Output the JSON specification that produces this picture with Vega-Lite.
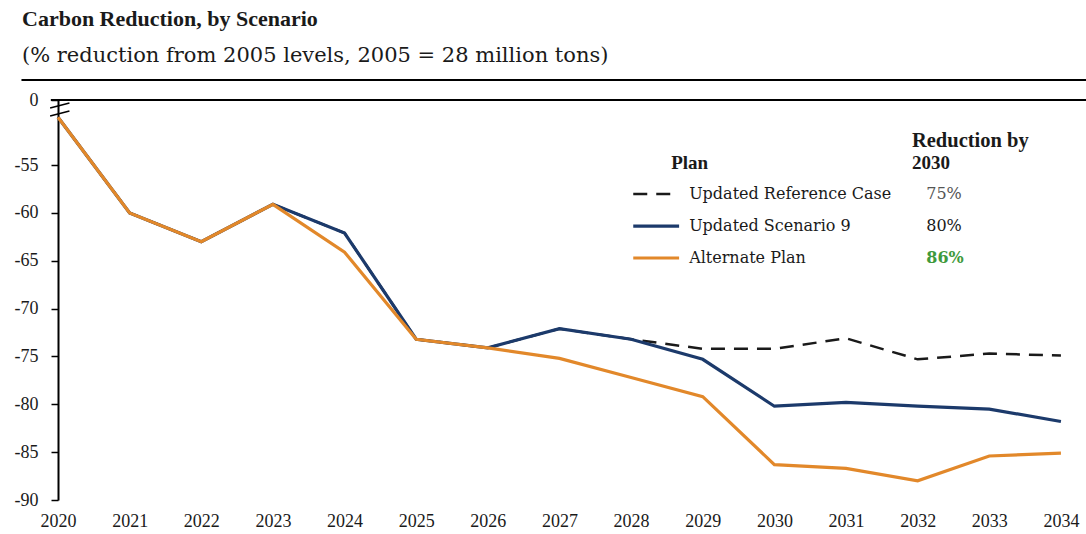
{
  "$schema": "https://vega.github.io/schema/vega-lite/v6.json",
  "width": 1028,
  "height": 400,
  "autosize": "none",
  "padding": {"left": 58, "top": 100, "right": 0, "bottom": 34},
  "background": "white",
  "title": {
    "text": "Carbon Reduction, by Scenario",
    "subtitle": "(% reduction from 2005 levels, 2005 = 28 million tons)",
    "anchor": "start",
    "frame": "group",
    "dx": -36,
    "offset": 12,
    "font": "Liberation Serif",
    "fontSize": 22,
    "fontWeight": "bold",
    "color": "#1a1a1a",
    "subtitleFont": "DejaVu Serif",
    "subtitleFontSize": 21,
    "subtitleColor": "#1a1a1a",
    "subtitlePadding": 14
  },
  "datasets": {
    "series": [
      {"year": 2020, "plan": "Updated Reference Case", "value": -50},
      {"year": 2021, "plan": "Updated Reference Case", "value": -60},
      {"year": 2022, "plan": "Updated Reference Case", "value": -63},
      {"year": 2023, "plan": "Updated Reference Case", "value": -59.1},
      {"year": 2024, "plan": "Updated Reference Case", "value": -62.1},
      {"year": 2025, "plan": "Updated Reference Case", "value": -73.2},
      {"year": 2026, "plan": "Updated Reference Case", "value": -74.1},
      {"year": 2027, "plan": "Updated Reference Case", "value": -72.1},
      {"year": 2028, "plan": "Updated Reference Case", "value": -73.2},
      {"year": 2029, "plan": "Updated Reference Case", "value": -74.2},
      {"year": 2030, "plan": "Updated Reference Case", "value": -74.2},
      {"year": 2031, "plan": "Updated Reference Case", "value": -73.1},
      {"year": 2032, "plan": "Updated Reference Case", "value": -75.3},
      {"year": 2033, "plan": "Updated Reference Case", "value": -74.7},
      {"year": 2034, "plan": "Updated Reference Case", "value": -74.9},
      {"year": 2020, "plan": "Updated Scenario 9", "value": -50},
      {"year": 2021, "plan": "Updated Scenario 9", "value": -60},
      {"year": 2022, "plan": "Updated Scenario 9", "value": -63},
      {"year": 2023, "plan": "Updated Scenario 9", "value": -59.1},
      {"year": 2024, "plan": "Updated Scenario 9", "value": -62.1},
      {"year": 2025, "plan": "Updated Scenario 9", "value": -73.2},
      {"year": 2026, "plan": "Updated Scenario 9", "value": -74.1},
      {"year": 2027, "plan": "Updated Scenario 9", "value": -72.1},
      {"year": 2028, "plan": "Updated Scenario 9", "value": -73.2},
      {"year": 2029, "plan": "Updated Scenario 9", "value": -75.3},
      {"year": 2030, "plan": "Updated Scenario 9", "value": -80.2},
      {"year": 2031, "plan": "Updated Scenario 9", "value": -79.8},
      {"year": 2032, "plan": "Updated Scenario 9", "value": -80.2},
      {"year": 2033, "plan": "Updated Scenario 9", "value": -80.5},
      {"year": 2034, "plan": "Updated Scenario 9", "value": -81.8},
      {"year": 2020, "plan": "Alternate Plan", "value": -50},
      {"year": 2021, "plan": "Alternate Plan", "value": -60},
      {"year": 2022, "plan": "Alternate Plan", "value": -63},
      {"year": 2023, "plan": "Alternate Plan", "value": -59.1},
      {"year": 2024, "plan": "Alternate Plan", "value": -64.1},
      {"year": 2025, "plan": "Alternate Plan", "value": -73.2},
      {"year": 2026, "plan": "Alternate Plan", "value": -74.1},
      {"year": 2027, "plan": "Alternate Plan", "value": -75.2},
      {"year": 2028, "plan": "Alternate Plan", "value": -77.2},
      {"year": 2029, "plan": "Alternate Plan", "value": -79.2},
      {"year": 2030, "plan": "Alternate Plan", "value": -86.3},
      {"year": 2031, "plan": "Alternate Plan", "value": -86.7},
      {"year": 2032, "plan": "Alternate Plan", "value": -88},
      {"year": 2033, "plan": "Alternate Plan", "value": -85.4},
      {"year": 2034, "plan": "Alternate Plan", "value": -85.1}
    ],
    "one": [{"k": 1}]
  },
  "layer": [
    {
      "data": {"name": "series"},
      "transform": [{"filter": "datum.plan === 'Updated Reference Case'"}],
      "mark": {"type": "line", "color": "#1a1a1a", "strokeWidth": 2.5, "strokeDash": [14, 9]},
      "encoding": {
        "x": {
          "field": "year",
          "type": "quantitative",
          "scale": {"domain": [2020, 2034.35], "nice": false, "zero": false},
          "axis": {
            "title": null,
            "values": [2020, 2021, 2022, 2023, 2024, 2025, 2026, 2027, 2028, 2029, 2030, 2031, 2032, 2033, 2034],
            "format": "d",
            "domain": false,
            "ticks": false,
            "grid": false,
            "labelFont": "Liberation Serif",
            "labelFontSize": 18,
            "labelColor": "#1a1a1a",
            "labelPadding": 12,
            "labelFlush": false
          }
        },
        "y": {
          "field": "value",
          "type": "quantitative",
          "scale": {"domain": [-90, -48.2], "nice": false, "zero": false},
          "axis": {
            "title": null,
            "values": [-90, -85, -80, -75, -70, -65, -60, -55, -48.2],
            "labelExpr": "datum.value > -50 ? '0' : '' + datum.value",
            "grid": false,
            "domainColor": "#000",
            "domainWidth": 2,
            "tickColor": "#000",
            "tickWidth": 1.5,
            "tickSize": 7,
            "labelFont": "Liberation Serif",
            "labelFontSize": 18,
            "labelColor": "#1a1a1a",
            "labelPadding": 13
          }
        }
      }
    },
    {
      "data": {"name": "series"},
      "transform": [{"filter": "datum.plan === 'Updated Scenario 9'"}],
      "mark": {"type": "line", "color": "#1c3a6b", "strokeWidth": 3.2},
      "encoding": {
        "x": {"field": "year", "type": "quantitative"},
        "y": {"field": "value", "type": "quantitative"}
      }
    },
    {
      "data": {"name": "series"},
      "transform": [{"filter": "datum.plan === 'Alternate Plan'"}],
      "mark": {"type": "line", "color": "#e2882a", "strokeWidth": 3.2},
      "encoding": {
        "x": {"field": "year", "type": "quantitative"},
        "y": {"field": "value", "type": "quantitative"}
      }
    },
    {
      "data": {"name": "one"},
      "mark": {"type": "rule", "color": "#000", "strokeWidth": 2},
      "encoding": {
        "x": {"datum": 2019.9, "type": "quantitative"},
        "x2": {"datum": 2034.35},
        "y": {"datum": -48.2, "type": "quantitative"}
      }
    },
    {
      "data": {"name": "one"},
      "mark": {"type": "rule", "color": "#000", "strokeWidth": 2},
      "encoding": {
        "x": {"datum": 2019.49, "type": "quantitative"},
        "x2": {"datum": 2034.35},
        "y": {"datum": -46.11, "type": "quantitative"}
      }
    },
    {
      "data": {"name": "one"},
      "mark": {"type": "rule", "color": "#000", "strokeWidth": 1.5},
      "encoding": {
        "x": {"datum": 2019.89, "type": "quantitative"},
        "x2": {"datum": 2020.16},
        "y": {"datum": -49.04, "type": "quantitative"},
        "y2": {"datum": -48.51}
      }
    },
    {
      "data": {"name": "one"},
      "mark": {"type": "rule", "color": "#000", "strokeWidth": 1.5},
      "encoding": {
        "x": {"datum": 2019.89, "type": "quantitative"},
        "x2": {"datum": 2020.16},
        "y": {"datum": -49.87, "type": "quantitative"},
        "y2": {"datum": -49.35}
      }
    },
    {
      "data": {"name": "one"},
      "mark": {"type": "rule", "color": "#1a1a1a", "strokeWidth": 2.5, "strokeDash": [14, 9]},
      "encoding": {"x": {"datum": 2028.03, "type": "quantitative"}, "x2": {"datum": 2028.67}, "y": {"datum": -58.02, "type": "quantitative"}}
    },
    {
      "data": {"name": "one"},
      "mark": {"type": "rule", "color": "#1c3a6b", "strokeWidth": 3.2},
      "encoding": {"x": {"datum": 2028.03, "type": "quantitative"}, "x2": {"datum": 2028.67}, "y": {"datum": -61.37, "type": "quantitative"}}
    },
    {
      "data": {"name": "one"},
      "mark": {"type": "rule", "color": "#e2882a", "strokeWidth": 3.2},
      "encoding": {"x": {"datum": 2028.03, "type": "quantitative"}, "x2": {"datum": 2028.67}, "y": {"datum": -64.71, "type": "quantitative"}}
    },
    {
      "data": {"name": "one"},
      "mark": {"type": "text", "text": "Plan", "align": "left", "baseline": "middle", "font": "Liberation Serif", "fontSize": 19, "fontWeight": "bold", "color": "#1a1a1a"},
      "encoding": {"x": {"datum": 2028.56, "type": "quantitative"}, "y": {"datum": -54.78, "type": "quantitative"}}
    },
    {
      "data": {"name": "one"},
      "mark": {"type": "text", "text": "Reduction by", "align": "left", "baseline": "middle", "font": "Liberation Serif", "fontSize": 20.5, "fontWeight": "bold", "color": "#1a1a1a"},
      "encoding": {"x": {"datum": 2031.92, "type": "quantitative"}, "y": {"datum": -52.48, "type": "quantitative"}}
    },
    {
      "data": {"name": "one"},
      "mark": {"type": "text", "text": "2030", "align": "left", "baseline": "middle", "font": "Liberation Serif", "fontSize": 19, "fontWeight": "bold", "color": "#1a1a1a"},
      "encoding": {"x": {"datum": 2031.92, "type": "quantitative"}, "y": {"datum": -54.78, "type": "quantitative"}}
    },
    {
      "data": {"name": "one"},
      "mark": {"type": "text", "text": "Updated Reference Case", "align": "left", "baseline": "middle", "font": "DejaVu Serif", "fontSize": 16, "color": "#1a1a1a"},
      "encoding": {"x": {"datum": 2028.81, "type": "quantitative"}, "y": {"datum": -58.02, "type": "quantitative"}}
    },
    {
      "data": {"name": "one"},
      "mark": {"type": "text", "text": "Updated Scenario 9", "align": "left", "baseline": "middle", "font": "DejaVu Serif", "fontSize": 16, "color": "#1a1a1a"},
      "encoding": {"x": {"datum": 2028.81, "type": "quantitative"}, "y": {"datum": -61.37, "type": "quantitative"}}
    },
    {
      "data": {"name": "one"},
      "mark": {"type": "text", "text": "Alternate Plan", "align": "left", "baseline": "middle", "font": "DejaVu Serif", "fontSize": 16, "color": "#1a1a1a"},
      "encoding": {"x": {"datum": 2028.81, "type": "quantitative"}, "y": {"datum": -64.71, "type": "quantitative"}}
    },
    {
      "data": {"name": "one"},
      "mark": {"type": "text", "text": "75%", "align": "left", "baseline": "middle", "font": "DejaVu Serif", "fontSize": 16, "color": "#555"},
      "encoding": {"x": {"datum": 2032.12, "type": "quantitative"}, "y": {"datum": -58.02, "type": "quantitative"}}
    },
    {
      "data": {"name": "one"},
      "mark": {"type": "text", "text": "80%", "align": "left", "baseline": "middle", "font": "DejaVu Serif", "fontSize": 16, "color": "#1a1a1a"},
      "encoding": {"x": {"datum": 2032.12, "type": "quantitative"}, "y": {"datum": -61.37, "type": "quantitative"}}
    },
    {
      "data": {"name": "one"},
      "mark": {"type": "text", "text": "86%", "align": "left", "baseline": "middle", "font": "DejaVu Serif", "fontSize": 16, "fontWeight": "bold", "color": "#3f9a3c"},
      "encoding": {"x": {"datum": 2032.12, "type": "quantitative"}, "y": {"datum": -64.71, "type": "quantitative"}}
    }
  ],
  "config": {
    "view": {"stroke": null},
    "font": "Liberation Serif"
  }
}
